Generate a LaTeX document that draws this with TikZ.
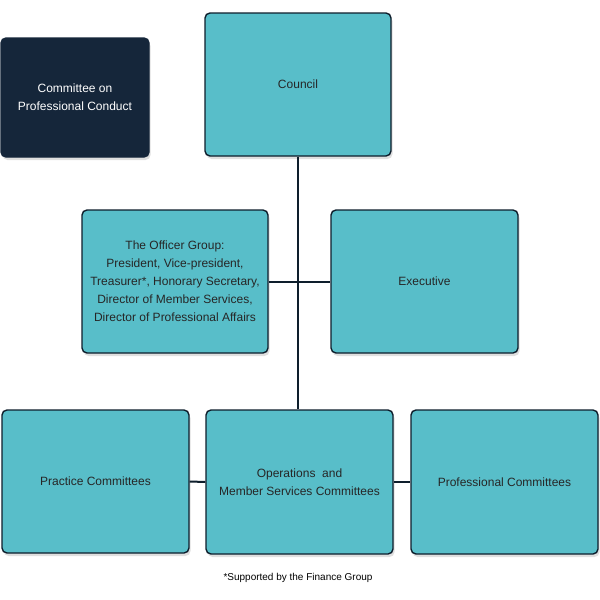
\documentclass[tikz,border=0pt]{standalone}
\usepackage{fontspec}
\setmainfont{Liberation Sans}
\usetikzlibrary{shadows}
\definecolor{boxteal}{HTML}{58BEC9}
\definecolor{boxnavy}{HTML}{15263A}
\definecolor{lineblue}{HTML}{0E1E2C}
\tikzset{
  orgbox/.style={draw=lineblue, line width=1.4pt, fill=boxteal, rounded corners=5pt,
    align=center, font=\fontsize{12}{18}\selectfont, text=black!85,
    drop shadow={shadow xshift=1.5pt, shadow yshift=-3pt, opacity=0.25}},
  link/.style={draw=lineblue, line width=2pt}
}
\begin{document}
\begin{tikzpicture}[x=1pt,y=-1pt]
    \useasboundingbox[fill=white] (0,0) rectangle (600,600);

    % top row
    \node[orgbox, fill=boxnavy, draw=boxnavy, text=white, minimum width=148pt, minimum height=119pt]
        (conduct) at (75,97.5) {Committee on\\Professional Conduct};
    \node[orgbox, minimum width=186pt, minimum height=143pt] (council) at (298,84.5) {Council};

    % middle row
    \node[orgbox, minimum width=186pt, minimum height=143pt] (officer) at (175,281.5)
        {The Officer Group:\\President, Vice-president,\\Treasurer*, Honorary Secretary,\\Director of Member Services,\\Director of Professional Affairs};
    \node[orgbox, minimum width=187pt, minimum height=143pt] (exec) at (424.5,281.5) {Executive};

    % bottom row
    \node[orgbox, minimum width=187pt, minimum height=143pt] (practice) at (95.5,481.5) {Practice Committees};
    \node[orgbox, minimum width=187pt, minimum height=144pt] (ops) at (299.5,482) {Operations\ \ and\\Member Services Committees};
    \node[orgbox, minimum width=187pt, minimum height=144pt] (prof) at (504.5,482) {Professional Committees};

    % connectors
    \draw[link] (council.south) -- (council.south |- ops.north);
    \draw[link] (officer.east) -- (exec.west);
    \draw[link] (practice.east) -- (ops.west);
    \draw[link] (ops.east) -- (prof.west);

    \node[font=\fontsize{10}{12}\selectfont] (note) at (298,578) {*Supported by the Finance Group};
\end{tikzpicture}
\end{document}
